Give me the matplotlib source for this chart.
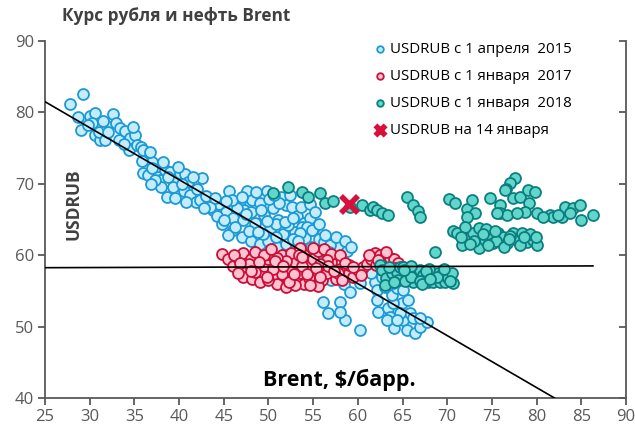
import matplotlib
matplotlib.use("Agg")
import matplotlib.pyplot as plt
import numpy as np

plt.rcParams['font.family'] = ['Open Sans', 'DejaVu Sans']

# ---- data ----
blue_x = [27.8, 29.3, 28.7, 29.0, 30.0, 30.6, 30.3, 30.6, 31.2, 31.0, 31.9, 31.7, 32.6, 32.9, 33.4, 33.3,
          34.0, 34.4, 34.5, 35.1, 35.3, 35.7, 36.0, 36.5, 37.0, 36.0, 36.5, 37.0, 37.6, 37.9, 38.4, 39.0,
          39.5, 40.1, 40.7, 41.0, 42.6, 39.3, 38.6, 39.5, 40.5, 41.2, 41.9, 42.3, 43.0, 43.8, 44.5, 45.6,
          47.6, 48.2, 46.8, 47.3, 45.2, 46.0, 44.2, 43.5, 42.0, 40.3, 38.0, 37.3, 35.8, 31.5, 33.8, 38.8,
          48.6, 49.8, 51.4, 52.0, 52.6, 53.2, 54.0, 54.6, 55.0, 55.6, 56.2, 57.0, 57.8, 58.8, 46.0, 47.0,
          48.0, 49.0, 50.0, 51.0, 52.0, 53.0, 50.2, 51.6, 53.0, 54.1, 48.5, 49.5, 50.5, 51.1, 52.2, 47.2,
          46.5, 48.0, 49.0, 50.1, 51.2, 53.6, 54.6, 55.2, 44.8, 45.5, 53.8, 54.3, 54.9, 53.5, 56.9, 56.3,
          55.6, 57.5, 58.6, 59.2, 47.8, 50.8, 52.7, 49.4, 45.9, 44.0,
          45.0, 46.3, 47.5, 48.8, 49.8, 50.8, 51.8, 52.8, 53.3, 54.8, 55.8, 56.8, 49.2, 50.6, 52.4, 47.0,
          45.3, 41.6, 39.9, 38.2, 36.8, 34.9, 32.1, 29.8, 36.9, 40.8, 42.8,
          55.5, 57.0, 58.5, 59.0, 60.2, 59.1, 56.1, 58.0, 56.7, 58.6, 60.2, 58.0, 61.9, 62.1, 62.1, 62.3,
          63.4, 63.6, 64.1, 65.0, 65.5, 66.4, 66.9, 67.7, 65.8, 64.9, 65.6, 63.9, 63.8, 63.0, 64.4, 65.0,
          66.2, 64.7, 66.9, 63.3, 64.4, 62.7, 63.9, 61.5, 60.5]
blue_y = [81.2, 82.6, 79.3, 77.6, 79.5, 79.9, 78.5, 76.8, 76.1, 77.2, 78.1, 76.1, 79.8, 78.5, 77.8, 76.2,
          77.4, 74.7, 76.4, 76.8, 75.5, 75.2, 74.8, 73.5, 73.0, 71.5, 71.2, 72.2, 71.0, 70.5, 72.0, 71.7,
          70.6, 71.5, 71.4, 70.3, 70.8, 69.6, 68.2, 68.0, 69.0, 68.4, 67.5, 67.7, 68.3, 66.3, 67.2, 69.0,
          69.0, 67.8, 67.6, 66.3, 66.0, 65.2, 65.5, 66.8, 69.3, 70.0, 69.5, 70.6, 73.2, 78.8, 75.6, 70.9,
          68.8, 69.0, 68.2, 67.0, 66.8, 65.5, 64.5, 65.2, 63.5, 62.2, 61.8, 61.5, 61.2, 60.6, 63.5, 62.6,
          62.0, 61.5, 62.0, 61.2, 61.6, 60.9, 63.6, 63.0, 63.2, 62.4, 64.5, 65.6, 66.6, 65.0, 64.2, 64.9,
          66.6, 66.1, 67.3, 67.9, 67.3, 66.8, 67.2, 66.0, 64.3, 62.8, 63.9, 64.0, 63.5, 63.1, 61.4, 62.8,
          64.4, 62.5, 62.0, 61.2, 63.4, 64.4, 62.3, 63.0, 67.7, 68.0,
          65.0, 64.0, 65.8, 63.2, 64.8, 62.6, 64.6, 65.2, 62.0, 61.2, 60.6, 60.4, 66.3, 68.4, 68.5, 68.2,
          67.6, 70.9, 72.3, 73.0, 74.5, 78.0, 77.2, 78.3, 70.0, 67.5, 66.6,
          57.0, 56.5, 56.0, 57.2, 56.1, 54.8, 53.4, 53.4, 51.9, 50.9, 49.5, 52.0, 56.2, 55.1, 53.7, 52.0,
          52.6, 51.4, 49.8, 50.9, 49.5, 49.1, 50.0, 50.6, 51.9, 53.3, 53.7, 53.3, 54.4, 55.5, 55.4, 55.1,
          51.2, 51.9, 51.2, 50.9, 50.9, 56.9, 56.1, 57.5, 58.0]

red_x = [44.8, 45.5, 46.0, 46.5, 47.1, 47.5, 47.2, 48.0, 48.5, 48.2, 49.0, 49.5, 50.0, 50.5, 51.0, 51.0,
         51.5, 52.0, 52.0, 52.5, 53.0, 53.0, 53.5, 54.0, 54.0, 54.5, 55.0, 55.0, 55.5, 56.0, 56.0, 56.5,
         57.0, 57.5, 58.0, 58.5, 59.0, 59.5, 60.0, 60.6, 61.0, 61.5, 61.9, 62.5, 63.0, 63.6, 64.0, 64.5,
         65.0, 65.5, 62.0, 49.0, 50.0, 53.0, 55.5, 47.8, 46.2, 50.0, 52.5, 53.5, 55.0, 56.2, 57.0, 58.0,
         59.0, 54.5, 51.5, 50.5, 49.5, 48.5, 52.0, 53.8, 56.5, 57.8, 51.0, 55.8, 58.6, 54.6,
         46.8, 48.9, 49.8, 50.7, 51.6, 52.3, 52.9, 53.4, 54.3, 55.3, 55.8, 56.7, 57.3, 58.2, 59.5, 60.4,
         61.3, 62.2, 63.2, 64.2, 53.7, 50.3, 48.0, 46.6]
red_y = [60.2, 59.4, 58.5, 59.8, 60.3, 58.0, 57.0, 59.5, 60.5, 56.6, 57.5, 58.5, 59.5, 57.0, 56.0, 58.5,
         60.0, 57.0, 55.5, 58.0, 59.0, 56.5, 57.5, 60.0, 56.0, 58.5, 57.0, 59.5, 60.6, 58.0, 56.5, 57.5,
         59.0, 56.6, 58.0, 57.0, 57.5, 57.0, 57.9, 58.4, 58.7, 59.5, 60.3, 60.0, 59.8, 59.6, 59.4, 58.9,
         58.4, 58.0, 58.6, 56.2, 56.5, 55.8, 55.7, 58.8, 60.0, 60.2, 60.3, 61.0, 61.0, 60.8, 60.2, 60.0,
         58.6, 56.8, 57.3, 58.0, 60.0, 57.7, 59.2, 58.5, 59.3, 57.5, 59.6, 58.8, 58.9, 55.8,
         58.9, 59.0, 57.0, 59.2, 58.5, 56.3, 57.3, 60.0, 57.3, 58.2, 57.0, 58.5, 57.8, 56.5, 58.3, 57.2,
         60.0, 59.3, 60.5, 58.2, 59.7, 60.8, 57.8, 57.5]

teal_x = [50.5, 52.2, 53.7, 54.4, 55.8, 56.3, 57.2, 59.1, 60.5, 61.4, 61.7, 62.1, 62.7, 63.4, 65.5, 66.2,
          66.7, 66.9, 70.2, 70.9, 72.2, 72.8, 73.1, 72.2, 74.8, 75.9, 75.9, 76.7, 77.6, 77.0, 76.6, 77.4,
          78.1, 79.0, 79.8, 79.2, 78.7, 80.0, 81.5, 82.8, 83.2, 84.1, 84.8, 85.0, 86.3, 81.8, 80.7, 75.6,
          77.8, 83.7, 82.4, 76.5,
          68.6, 70.6, 71.1, 71.7, 72.3, 72.9, 73.5, 73.6, 74.2, 74.8, 75.1, 75.7, 76.2, 76.7, 77.4, 77.8,
          78.4, 78.9, 79.6, 80.0, 78.1, 73.0, 75.5, 77.0, 79.3, 72.0, 74.3, 76.3,
          71.5, 72.6, 74.0, 75.3, 76.9, 78.6, 79.9, 74.6,
          62.5, 62.7, 63.2, 63.8, 64.4, 64.5, 64.7, 65.0, 65.5, 66.2, 66.6, 66.9, 67.3, 67.7, 67.8, 68.4,
          68.4, 69.0, 69.2, 69.5, 69.8, 70.1, 70.5, 70.7, 66.0, 68.0, 63.0,
          63.5, 64.0, 65.3, 66.0, 66.9, 67.6, 68.8, 69.6, 70.3, 65.2, 67.2, 68.1]
teal_y = [68.7, 69.6, 68.9, 68.2, 68.7, 67.3, 67.6, 66.8, 67.0, 66.3, 66.8, 66.3, 65.9, 65.6, 68.2, 67.1,
          66.2, 65.4, 67.9, 67.3, 66.5, 67.7, 65.9, 65.4, 68.0, 67.1, 65.9, 65.7, 70.8, 70.1, 69.3, 68.0,
          68.1, 69.1, 68.9, 67.3, 66.1, 65.9, 65.6, 65.4, 66.8, 66.6, 67.0, 64.9, 65.6, 65.4, 65.4, 65.9,
          65.9, 65.9, 65.6, 69.1,
          60.5, 63.4, 63.1, 61.4, 62.4, 63.1, 63.8, 61.0, 62.1, 62.8, 61.7, 63.1, 62.6, 61.7, 63.1, 62.1,
          63.1, 61.8, 62.1, 61.4, 61.4, 62.0, 62.0, 62.7, 62.9, 63.9, 63.6, 61.2,
          62.6, 61.6, 62.9, 63.4, 62.2, 62.5, 62.6, 61.4,
          58.6, 57.9, 56.8, 57.5, 57.6, 56.5, 58.4, 58.4, 57.5, 56.2, 57.5, 57.9, 57.2, 57.0, 56.2, 57.2,
          56.2, 57.5, 56.2, 57.6, 56.2, 56.8, 57.5, 56.1, 58.5, 58.0, 55.8,
          58.3, 56.2, 56.4, 57.0, 56.4, 57.8, 56.9, 58.0, 56.4, 57.9, 56.0, 56.6]

today_x = [59.0]
today_y = [67.2]

# trend lines: endpoints (x, y)
trend1_x = [25.0, 82.0]
trend1_y = [81.5, 40.0]
trend2_x = [25.0, 86.3]
trend2_y = [58.25, 58.5]

labels = ["USDRUB с 1 апреля  2015", "USDRUB с 1 января  2017",
          "USDRUB с 1 января  2018", "USDRUB на 14 января"]

x_ticks = list(range(25, 91, 5))
y_ticks = list(range(40, 91, 10))

# ---- figure ----
fig = plt.figure(figsize=(6.35, 4.37), dpi=100)
ax = fig.add_axes([45/635, 39/437, 581/635, 357/437])

gray = '#595959'
ms = 62
lw = 1.3
ax.scatter(blue_x, blue_y, s=ms, facecolor='#C5ECFC', edgecolor='#1B9AD6', linewidth=lw, zorder=2, label=labels[0])
ax.scatter(red_x, red_y, s=ms, facecolor='#FFC4D0', edgecolor='#CC0F3A', linewidth=lw, zorder=3, label=labels[1])
ax.scatter(teal_x, teal_y, s=ms, facecolor='#62D6CA', edgecolor='#0B7F80', linewidth=lw, zorder=4, label=labels[2])
ax.plot(trend1_x, trend1_y, color='black', lw=1.2, zorder=5)
ax.plot(trend2_x, trend2_y, color='black', lw=1.2, zorder=5)
ax.scatter(today_x, today_y, s=150, marker='x', color='#D80F3B', linewidth=4, zorder=6, label=labels[3])

ax.set_xlim(25, 90)
ax.set_ylim(40, 90)
ax.set_xticks(x_ticks)
ax.set_yticks(y_ticks)

ax.spines['top'].set_visible(False)
for side in ['left', 'bottom', 'right']:
    ax.spines[side].set_color(gray)
    ax.spines[side].set_linewidth(1.3)

ax.tick_params(axis='both', colors=gray, labelsize=12, length=5, width=1.3, direction='out', pad=3)
for lab in ax.get_xticklabels() + ax.get_yticklabels():
    lab.set_color(gray)

# right axis with inward ticks, no labels
axr = ax.twinx()
axr.set_ylim(40, 90)
axr.set_yticks(y_ticks)
axr.tick_params(axis='y', direction='in', length=5, width=1.3, colors=gray, labelright=False)
for side in ['top', 'left', 'bottom', 'right']:
    axr.spines[side].set_visible(False)

leg = ax.legend(loc='upper left', bbox_to_anchor=(371/635, 1 - 42/437), bbox_transform=fig.transFigure,
                frameon=False, fontsize=10.8, handletextpad=0.05, labelspacing=0.8, handlelength=1.2,
                markerscale=0.6, borderaxespad=0, borderpad=0)
leg.set_zorder(10)

fig.text(62/635, 1 - 16/437, "Курс рубля и нефть Brent", fontsize=12.4, fontweight='bold',
         color='#404040', ha='left', va='center')
ax.text(28.2, 67.2, "USDRUB", rotation=90, fontsize=12.5, fontweight='bold', color='#404040',
        ha='center', va='center')
ax.text(49.4, 42.6, "Brent, $/барр.", fontsize=15.5, fontweight='bold', color='black',
        ha='left', va='center')

fig.savefig('out.png', dpi=100)
